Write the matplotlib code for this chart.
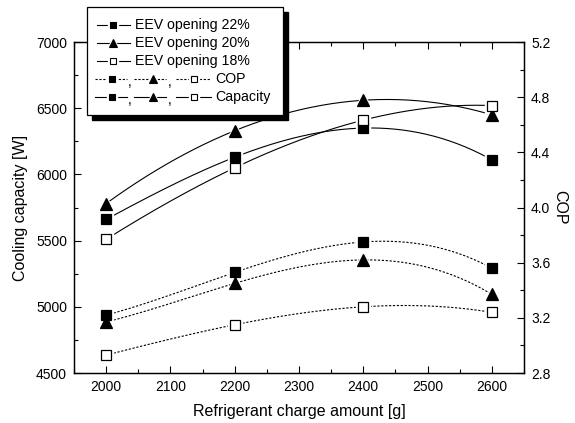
import numpy as np
import matplotlib.pyplot as plt
from matplotlib.patches import Rectangle
from matplotlib.lines import Line2D

plt.rcParams['font.family'] = ['Liberation Sans', 'DejaVu Sans']

charge = [2000, 2200, 2400, 2600]
openings = ['22%', '20%', '18%']
capacity_22 = [5660, 6130, 6350, 6110]
capacity_20 = [5780, 6330, 6560, 6450]
capacity_18 = [5510, 6050, 6410, 6520]
cop_22 = [3.22, 3.53, 3.75, 3.56]
cop_20 = [3.17, 3.45, 3.62, 3.37]
cop_18 = [2.93, 3.15, 3.28, 3.24]

W, H = 575, 423
fig = plt.figure(figsize=(W / 100, H / 100), dpi=100)
ax = fig.add_axes([74 / W, 1 - 373 / H, 450 / W, 331 / H])
ax2 = ax.twinx()

styles = [('s', 'k', 7, 10), ('^', 'k', 8.5, 12), ('s', 'w', 7, 10)]


def draw(a, y, ls, style):
    marker, face, ms, halo = style
    x = np.array(charge, dtype=float)
    coef = np.polyfit(x, y, 3)
    xs = np.linspace(x[0], x[-1], 200)
    a.plot(xs, np.polyval(coef, xs), color='k', lw=0.8, ls=ls, zorder=2)
    a.plot(x, y, ls='none', marker=marker, ms=halo, mfc='w', mec='w', zorder=3)
    a.plot(x, y, ls='none', marker=marker, ms=ms, mfc=face, mec='k', mew=0.9, zorder=4)


for y, st in zip([capacity_22, capacity_20, capacity_18], styles):
    draw(ax, y, '-', st)
for y, st in zip([cop_22, cop_20, cop_18], styles):
    draw(ax2, y, (0, (2, 1.5)), st)

ax.set_xlim(1950, 2650)
ax.set_ylim(4500, 7000)
ax2.set_ylim(2.8, 5.2)
ax.set_xticks(charge + [2100, 2300, 2500])
ax.set_xticks(np.arange(1950, 2651, 50), minor=True)
ax.set_yticks(np.arange(4500, 7001, 500))
ax.set_yticks(np.arange(4500, 7001, 250), minor=True)
ax2.set_yticks(np.arange(2.8, 5.21, 0.4))
ax2.set_yticks(np.arange(2.8, 5.21, 0.2), minor=True)
ax2.set_yticklabels([f'{v:.1f}' for v in np.arange(2.8, 5.21, 0.4)])

ax.tick_params(which='both', direction='in', top=True, labelsize=10, width=0.8)
ax.tick_params(which='major', length=5, pad=5)
ax.tick_params(which='minor', length=3)
ax.tick_params(axis='y', right=False)
ax2.tick_params(which='both', direction='in', labelsize=10, width=0.8)
ax2.tick_params(which='major', length=5, pad=5)
ax2.tick_params(which='minor', length=3)
for a in (ax, ax2):
    for s in a.spines.values():
        s.set_linewidth(0.9)

ax.set_xlabel('Refrigerant charge amount [g]', fontsize=11.5, labelpad=7)
ax.set_ylabel('Cooling capacity [W]', fontsize=11.5, labelpad=6)
ax2.set_ylabel('COP', fontsize=11.5, rotation=270, labelpad=12)


# legend box drawn in pixel coordinates
def fx(x):
    return x / W


def fy(y):
    return 1 - y / H


fig.patches.append(Rectangle((fx(92), fy(120)), fx(196), 108 / H, transform=fig.transFigure,
                             facecolor='k', edgecolor='k', zorder=5))
fig.patches.append(Rectangle((fx(87), fy(115)), fx(196), 108 / H, transform=fig.transFigure,
                             facecolor='w', edgecolor='k', lw=0.9, zorder=6))


def leg_item(x0, x1, xm, y, ls, style):
    marker, face, ms, halo = style
    fig.add_artist(Line2D([fx(x0), fx(x1)], [fy(y), fy(y)], transform=fig.transFigure,
                          color='k', lw=0.8, ls=ls, zorder=7))
    fig.add_artist(Line2D([fx(xm)], [fy(y)], transform=fig.transFigure, ls='none',
                          marker=marker, ms=halo * 0.7, mfc='w', mec='w', zorder=8))
    fig.add_artist(Line2D([fx(xm)], [fy(y)], transform=fig.transFigure, ls='none',
                          marker=marker, ms=ms * 0.7, mfc=face, mec='k', mew=0.8, zorder=9))


rows = [25, 43, 61]
for op, st, y in zip(openings, styles, rows):
    leg_item(97, 130, 113, y, '-', st)
    fig.text(fx(135), fy(y), f'EEV opening {op}', fontsize=10.2, va='center', zorder=10)

segs = [(95, 127, 112), (134, 166, 153), (176, 211, 194)]
for y, ls, lab in [(79, (0, (2, 1.5)), 'COP'), (97, '-', 'Capacity')]:
    for (x0, x1, xm), st in zip(segs, styles):
        leg_item(x0, x1, xm, y, ls, st)
    fig.text(fx(128), fy(y) - 0.008, ',', fontsize=10, va='center', zorder=10)
    fig.text(fx(168), fy(y) - 0.008, ',', fontsize=10, va='center', zorder=10)
    fig.text(fx(215), fy(y), lab, fontsize=10.2, va='center', zorder=10)

fig.savefig('out.png', dpi=100)
